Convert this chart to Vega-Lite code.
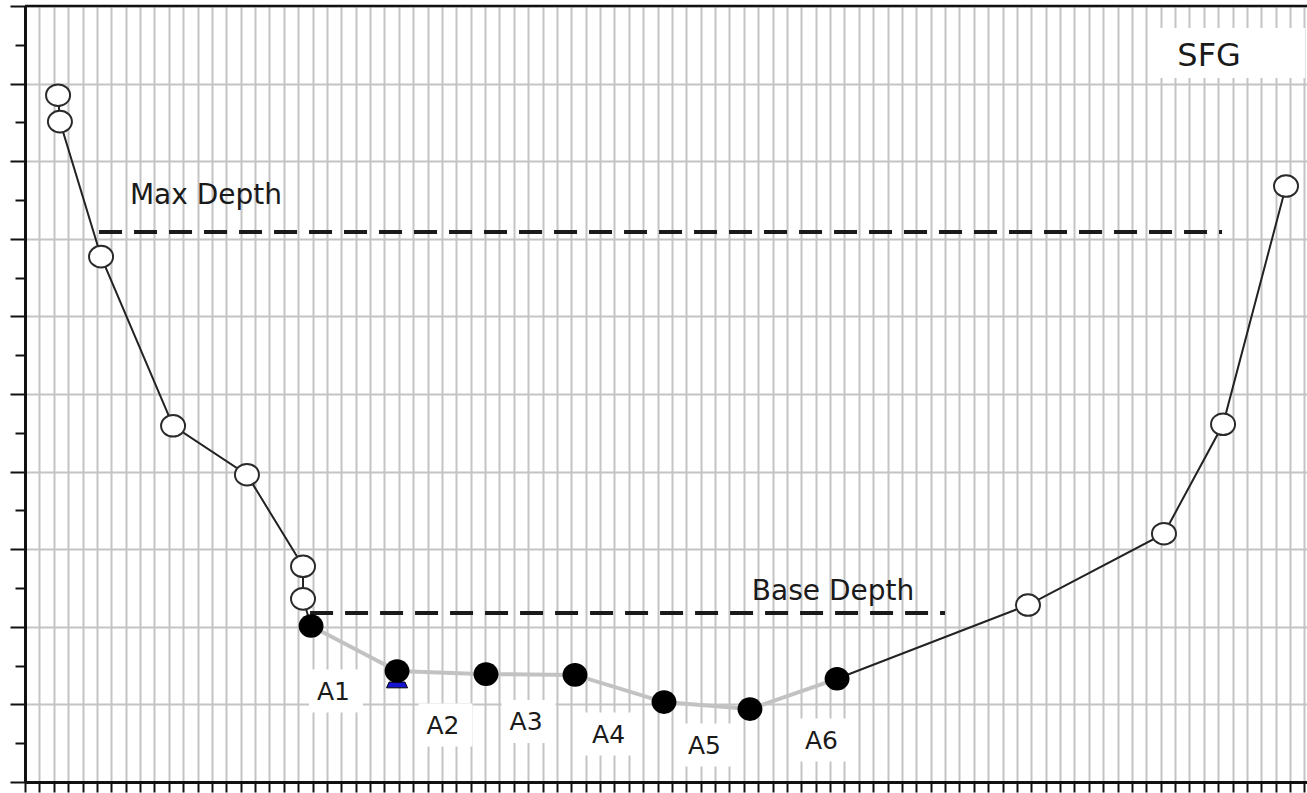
{
  "$schema": "https://vega.github.io/schema/vega-lite/v6.json",
  "autosize": {"type": "none"},
  "padding": {"left": 25, "top": 6, "right": 0, "bottom": 11},
  "width": 1282,
  "height": 776,
  "background": "white",
  "view": {"stroke": null},
  "datasets": {
    "profile": [
      {"idx": 1, "x": 2.30, "y": 8.85, "kind": "open"},
      {"idx": 2, "x": 2.43, "y": 8.51, "kind": "open"},
      {"idx": 3, "x": 5.29, "y": 6.77, "kind": "open"},
      {"idx": 4, "x": 10.30, "y": 4.59, "kind": "open"},
      {"idx": 5, "x": 15.44, "y": 3.96, "kind": "open"},
      {"idx": 6, "x": 19.34, "y": 2.78, "kind": "open"},
      {"idx": 7, "x": 19.34, "y": 2.36, "kind": "open"},
      {"idx": 8, "x": 19.90, "y": 2.01, "kind": "filled"},
      {"idx": 9, "x": 25.88, "y": 1.43, "kind": "filled"},
      {"idx": 10, "x": 32.07, "y": 1.39, "kind": "filled"},
      {"idx": 11, "x": 38.26, "y": 1.38, "kind": "filled"},
      {"idx": 12, "x": 44.45, "y": 1.03, "kind": "filled"},
      {"idx": 13, "x": 50.43, "y": 0.94, "kind": "filled"},
      {"idx": 14, "x": 56.49, "y": 1.33, "kind": "filled"},
      {"idx": 15, "x": 69.77, "y": 2.28, "kind": "open"},
      {"idx": 16, "x": 79.23, "y": 3.20, "kind": "open"},
      {"idx": 17, "x": 83.34, "y": 4.61, "kind": "open"},
      {"idx": 18, "x": 87.72, "y": 7.68, "kind": "open"}
    ],
    "areas": [
      {"label": "A1", "x": 21.63, "y": 1.173},
      {"label": "A2", "x": 29.25, "y": 0.735},
      {"label": "A3", "x": 35.03, "y": 0.780},
      {"label": "A4", "x": 40.77, "y": 0.619},
      {"label": "A5", "x": 47.44, "y": 0.477},
      {"label": "A6", "x": 55.58, "y": 0.541}
    ],
    "depths": [
      {"name": "Max Depth", "x": 5.15, "x2": 83.27, "y": 7.088},
      {"name": "Base Depth", "x": 19.83, "x2": 64.0, "y": 2.178}
    ],
    "depthLabels": [
      {"label": "Max Depth", "x": 12.59, "y": 7.448},
      {"label": "Base Depth", "x": 56.21, "y": 2.345}
    ],
    "title": [{"label": "SFG", "x": 82.37, "y": 9.227}],
    "titleBox": [{"x": 83.83, "y": 9.394}],
    "frame": [{"x": 0, "x2": 89.18, "y": 10}]
  },
  "encoding": {
    "x": {
      "field": "x", "type": "quantitative",
      "scale": {"domain": [0, 89.18], "nice": false, "zero": false},
      "axis": {
        "values": [0,1,2,3,4,5,6,7,8,9,10,11,12,13,14,15,16,17,18,19,20,21,22,23,24,25,26,27,28,29,30,31,32,33,34,35,36,37,38,39,40,41,42,43,44,45,46,47,48,49,50,51,52,53,54,55,56,57,58,59,60,61,62,63,64,65,66,67,68,69,70,71,72,73,74,75,76,77,78,79,80,81,82,83,84,85,86,87,88,89],
        "grid": true, "gridColor": "#c4c4c4", "gridWidth": 2,
        "labels": false, "title": null,
        "ticks": true, "tickSize": 10, "tickWidth": 2, "tickColor": "#111111",
        "domain": true, "domainColor": "#111111", "domainWidth": 3
      }
    },
    "y": {
      "field": "y", "type": "quantitative",
      "scale": {"domain": [0, 10], "nice": false, "zero": false},
      "axis": {
        "values": [0,0.5,1,1.5,2,2.5,3,3.5,4,4.5,5,5.5,6,6.5,7,7.5,8,8.5,9,9.5,10],
        "grid": true, "gridColor": "#c4c4c4", "gridWidth": 2,
        "gridOpacity": {"condition": {"test": "datum.value % 1 === 0", "value": 1}, "value": 0},
        "tickSize": {"condition": {"test": "datum.value % 1 === 0", "value": 15}, "value": 10},
        "labels": false, "title": null,
        "ticks": true, "tickWidth": 2, "tickColor": "#111111",
        "domain": true, "domainColor": "#111111", "domainWidth": 3
      }
    }
  },
  "layer": [
    {
      "data": {"name": "areas"},
      "mark": {"type": "point", "shape": "M-1,-0.796L1,-0.796L1,0.796L-1,0.796Z", "size": 2916, "filled": true, "fill": "white", "opacity": 1, "strokeWidth": 0}
    },
    {
      "data": {"name": "titleBox"},
      "mark": {"type": "point", "shape": "M-1,-0.333L1,-0.333L1,0.333L-1,0.333Z", "size": 22500, "filled": true, "fill": "white", "opacity": 1, "strokeWidth": 0}
    },
    {
      "data": {"name": "frame"},
      "mark": {"type": "rule", "color": "#111111", "strokeWidth": 2.5},
      "encoding": {"x2": {"field": "x2"}}
    },
    {
      "data": {"name": "depths"},
      "mark": {"type": "rule", "color": "#1a1a1a", "strokeWidth": 4, "strokeDash": [23, 12]},
      "encoding": {"x2": {"field": "x2"}}
    },
    {
      "data": {"name": "profile"},
      "transform": [{"filter": "datum.idx >= 8 && datum.idx <= 14"}],
      "mark": {"type": "line", "color": "#c2c2c2", "strokeWidth": 4},
      "encoding": {"order": {"field": "idx", "type": "quantitative"}}
    },
    {
      "data": {"name": "profile"},
      "transform": [{"filter": "datum.idx <= 8"}],
      "mark": {"type": "line", "color": "#222222", "strokeWidth": 2},
      "encoding": {"order": {"field": "idx", "type": "quantitative"}}
    },
    {
      "data": {"name": "profile"},
      "transform": [{"filter": "datum.idx >= 14"}],
      "mark": {"type": "line", "color": "#222222", "strokeWidth": 2},
      "encoding": {"order": {"field": "idx", "type": "quantitative"}}
    },
    {
      "data": {"name": "profile"},
      "transform": [{"filter": "datum.idx === 9"}],
      "mark": {"type": "point", "shape": "M-1,1.6L1,1.6L0.75,1.05L-0.75,1.05Z", "size": 441, "filled": true, "fill": "#1414d2", "stroke": "#000000", "strokeWidth": 1, "opacity": 1}
    },
    {
      "data": {"name": "profile"},
      "transform": [{"filter": "datum.kind === 'open'"}],
      "mark": {"type": "point", "shape": "M-1,0A1,0.9,0,1,1,1,0A1,0.9,0,1,1,-1,0Z", "size": 576, "filled": false, "fill": "white", "fillOpacity": 1, "stroke": "#2a2a2a", "strokeWidth": 2, "opacity": 1}
    },
    {
      "data": {"name": "profile"},
      "transform": [{"filter": "datum.kind === 'filled'"}],
      "mark": {"type": "point", "shape": "M-1,0A1,0.95,0,1,1,1,0A1,0.95,0,1,1,-1,0Z", "size": 620, "filled": true, "fill": "#000000", "opacity": 1, "strokeWidth": 0}
    },
    {
      "data": {"name": "areas"},
      "mark": {"type": "text", "font": "DejaVu Sans", "fontSize": 25, "align": "center", "baseline": "alphabetic", "dy": 9, "dx": -2.5, "color": "#1a1a1a"},
      "encoding": {"text": {"field": "label"}}
    },
    {
      "data": {"name": "depthLabels"},
      "mark": {"type": "text", "font": "DejaVu Sans", "fontSize": 28, "align": "center", "baseline": "alphabetic", "color": "#1a1a1a"},
      "encoding": {"text": {"field": "label"}}
    },
    {
      "data": {"name": "title"},
      "mark": {"type": "text", "font": "DejaVu Sans", "fontSize": 32, "align": "center", "baseline": "alphabetic", "color": "#1a1a1a"},
      "encoding": {"text": {"field": "label"}}
    }
  ]
}
